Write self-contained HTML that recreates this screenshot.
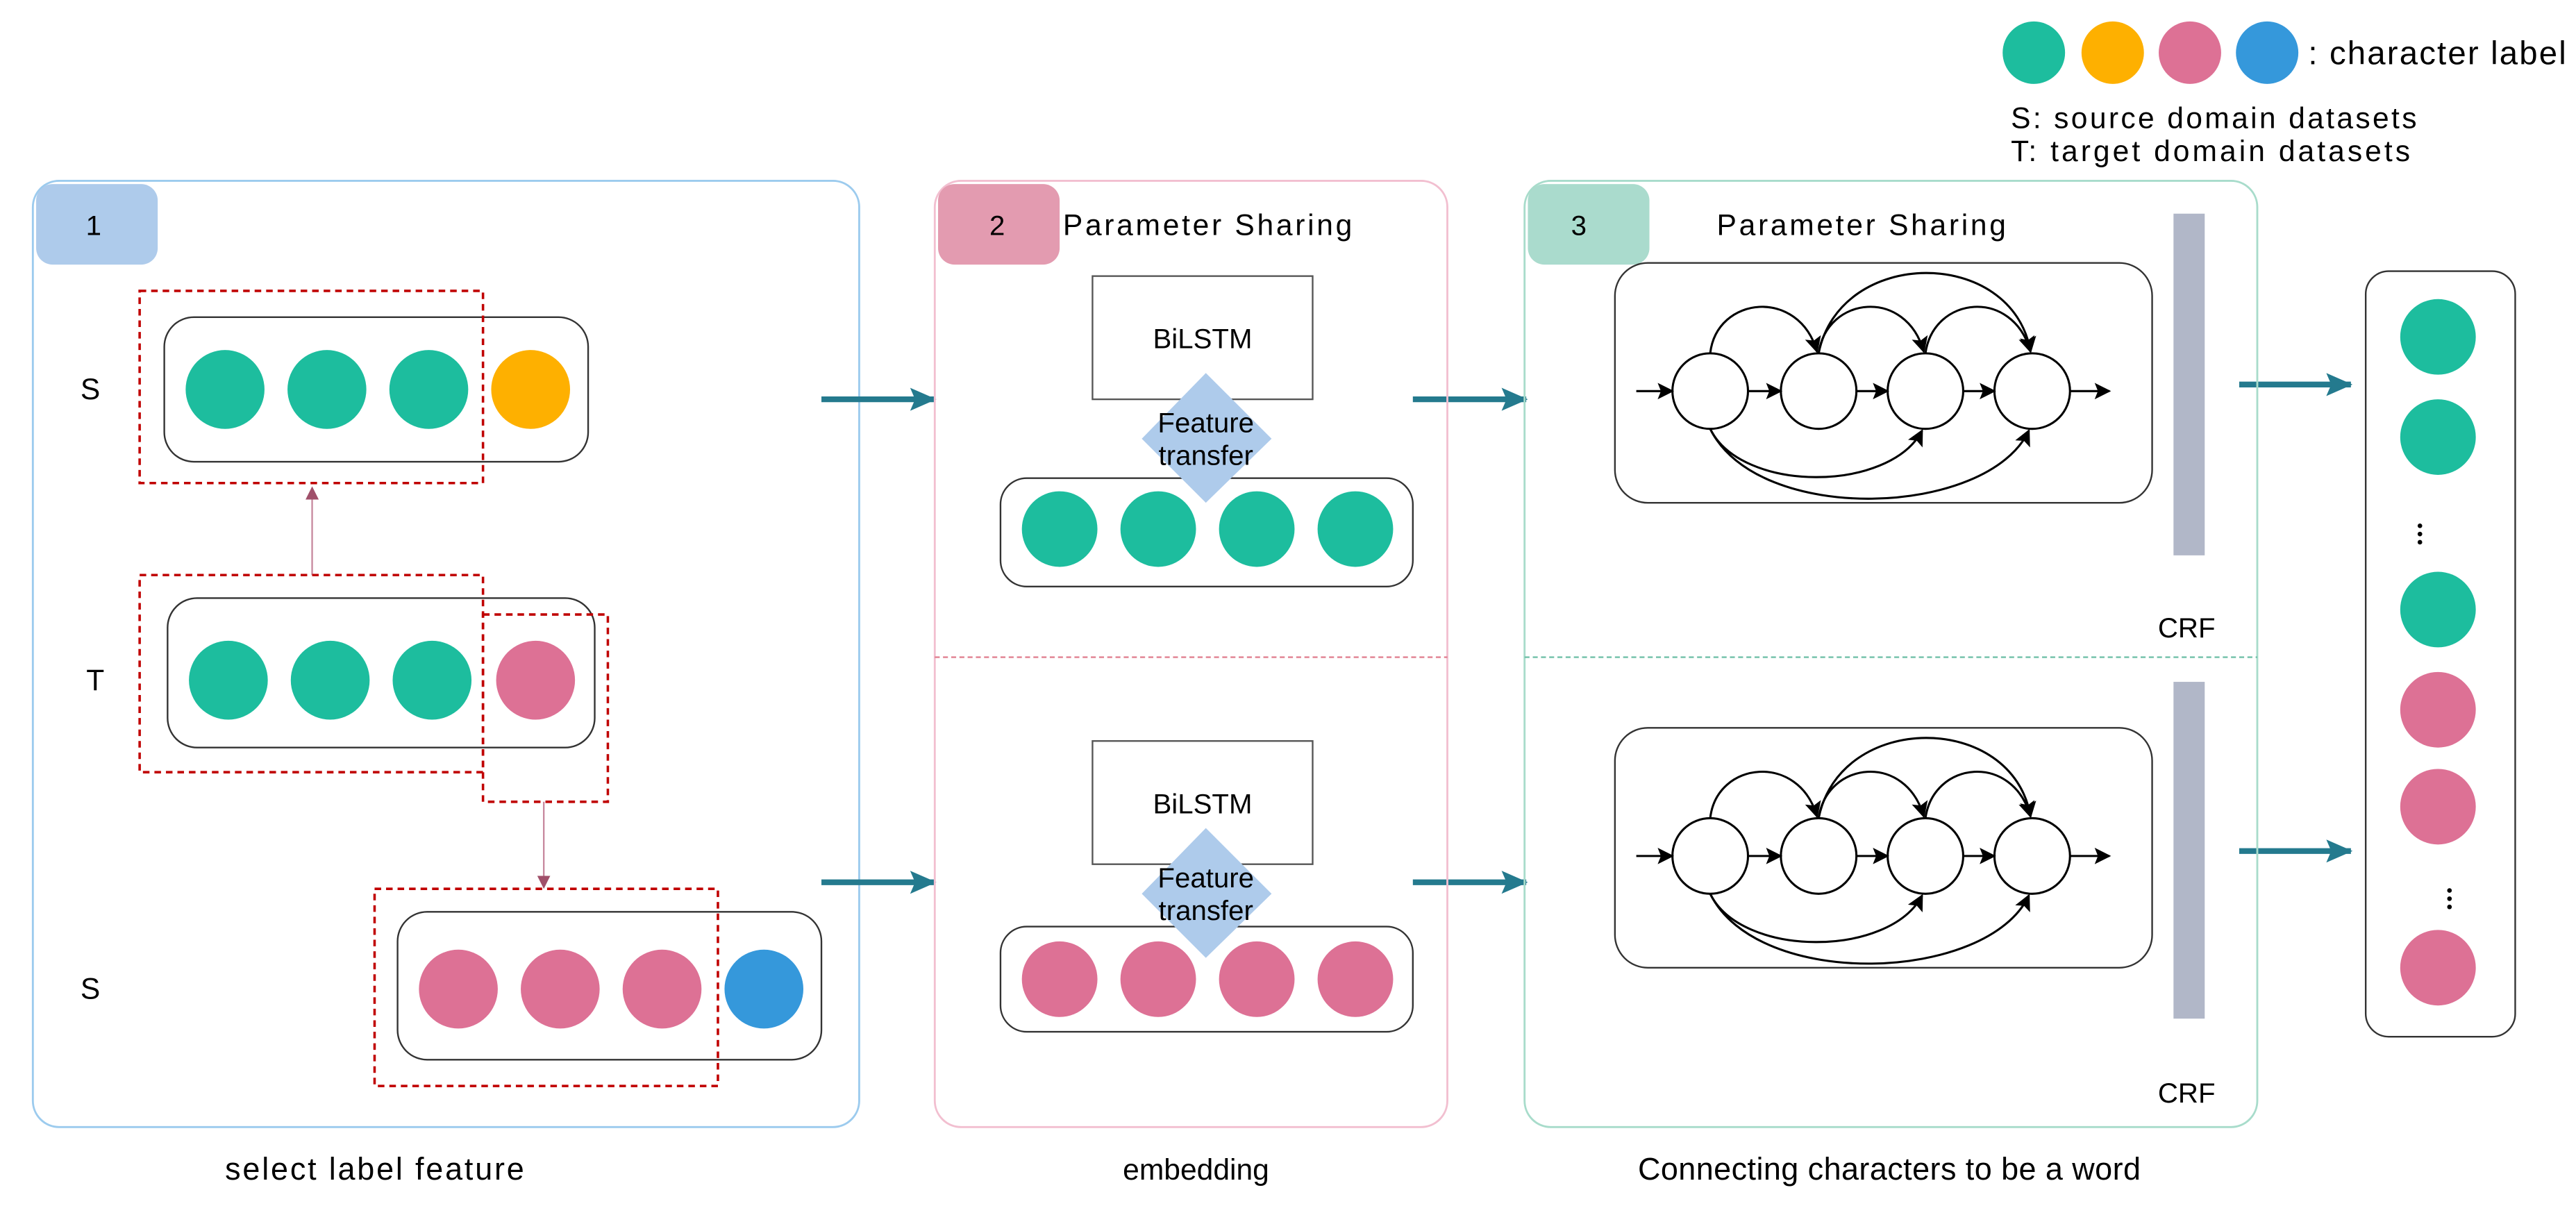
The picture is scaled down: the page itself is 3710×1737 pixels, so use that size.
<!DOCTYPE html>
<html><head><meta charset="utf-8"><style>
html,body{margin:0;padding:0;background:#fff;}
svg{display:block;}
text{font-family:"Liberation Sans",sans-serif;fill:#000;}
</style></head><body>
<svg width="3710" height="1737" viewBox="0 0 1568 734" xmlns="http://www.w3.org/2000/svg">
<defs>
<marker id="tl" markerWidth="16" markerHeight="14" refX="15" refY="7" orient="auto" markerUnits="userSpaceOnUse" viewBox="0 0 16 14"><path d="M0,0 L16,7 L0,14 L3,7 z" fill="#247a8e"/></marker>
<marker id="bk" markerWidth="10" markerHeight="10" refX="9" refY="5" orient="auto" markerUnits="userSpaceOnUse"><path d="M0,0 L10,5 L0,10 L2,5 z" fill="#000"/></marker>
<marker id="pk" markerWidth="8" markerHeight="8" refX="7" refY="4" orient="auto" markerUnits="userSpaceOnUse"><path d="M0,0 L8,4 L0,8 z" fill="#a0506a"/></marker>
</defs>

<!-- legend -->
<ellipse cx="1238" cy="32" rx="19" ry="19" fill="#1dbd9e"/>
<ellipse cx="1286" cy="32" rx="19" ry="19" fill="#feb000"/>
<ellipse cx="1333" cy="32" rx="19" ry="19" fill="#dd7195"/>
<ellipse cx="1380" cy="32" rx="19" ry="19" fill="#3598db"/>
<text x="1405" y="39" font-size="20" textLength="157">: character label</text>
<text x="1224" y="78" font-size="18" textLength="247">S: source domain datasets</text>
<text x="1224" y="98" font-size="18" textLength="243">T: target domain datasets</text>

<!-- panel 1 -->
<rect x="20" y="110" width="503" height="576" rx="16" fill="none" stroke="#9ccbee" stroke-width="1.2"/>
<rect x="22" y="112" width="74" height="49" rx="10" fill="#aecbeb"/>
<text x="57" y="143" font-size="17" text-anchor="middle">1</text>
<text x="55" y="243" font-size="18" text-anchor="middle">S</text>
<text x="58" y="420" font-size="18" text-anchor="middle">T</text>
<text x="55" y="608" font-size="18" text-anchor="middle">S</text>

<rect x="100" y="193" width="258" height="88" rx="18" fill="none" stroke="#333" stroke-width="1"/>
<circle cx="137" cy="237" r="24" fill="#1dbd9e"/>
<circle cx="199" cy="237" r="24" fill="#1dbd9e"/>
<circle cx="261" cy="237" r="24" fill="#1dbd9e"/>
<circle cx="323" cy="237" r="24" fill="#feb000"/>
<rect x="85" y="177" width="209" height="117" fill="none" stroke="#c00000" stroke-width="1.5" stroke-dasharray="4,3"/>

<line x1="190" y1="350" x2="190" y2="297" stroke="#c88ba0" stroke-width="1" marker-end="url(#pk)"/>

<rect x="102" y="364" width="260" height="91" rx="18" fill="none" stroke="#333" stroke-width="1"/>
<circle cx="139" cy="414" r="24" fill="#1dbd9e"/>
<circle cx="201" cy="414" r="24" fill="#1dbd9e"/>
<circle cx="263" cy="414" r="24" fill="#1dbd9e"/>
<circle cx="326" cy="414" r="24" fill="#dd7195"/>
<rect x="85" y="350" width="209" height="120" fill="none" stroke="#c00000" stroke-width="1.5" stroke-dasharray="4,3"/>
<rect x="294" y="374" width="76" height="114" fill="none" stroke="#c00000" stroke-width="1.5" stroke-dasharray="4,3"/>

<line x1="331" y1="488" x2="331" y2="540" stroke="#c88ba0" stroke-width="1" marker-end="url(#pk)"/>

<rect x="242" y="555" width="258" height="90" rx="18" fill="none" stroke="#333" stroke-width="1"/>
<circle cx="279" cy="602" r="24" fill="#dd7195"/>
<circle cx="341" cy="602" r="24" fill="#dd7195"/>
<circle cx="403" cy="602" r="24" fill="#dd7195"/>
<circle cx="465" cy="602" r="24" fill="#3598db"/>
<rect x="228" y="541" width="209" height="120" fill="none" stroke="#c00000" stroke-width="1.5" stroke-dasharray="4,3"/>

<text x="228" y="718" font-size="19" text-anchor="middle" textLength="182">select label feature</text>

<!-- teal arrows -->
<g stroke="#247a8e" stroke-width="3.5" fill="none">
<line x1="500" y1="243" x2="569" y2="243" marker-end="url(#tl)"/>
<line x1="500" y1="537" x2="569" y2="537" marker-end="url(#tl)"/>
<line x1="860" y1="243" x2="929" y2="243" marker-end="url(#tl)"/>
<line x1="860" y1="537" x2="929" y2="537" marker-end="url(#tl)"/>
<line x1="1363" y1="234" x2="1431" y2="234" marker-end="url(#tl)"/>
<line x1="1363" y1="518" x2="1431" y2="518" marker-end="url(#tl)"/>
</g>

<!-- panel 2 -->
<rect x="569" y="110" width="312" height="576" rx="16" fill="none" stroke="#f2bfd0" stroke-width="1.2"/>
<rect x="571" y="112" width="74" height="49" rx="10" fill="#e39bb0"/>
<text x="607" y="143" font-size="17" text-anchor="middle">2</text>
<text x="647" y="143" font-size="18" textLength="176">Parameter Sharing</text>
<line x1="569" y1="400" x2="881" y2="400" stroke="#e08090" stroke-width="1" stroke-dasharray="3,2"/>

<rect x="665" y="168" width="134" height="75" fill="#fff" stroke="#555" stroke-width="1"/>
<text x="732" y="212" font-size="17" text-anchor="middle">BiLSTM</text>
<rect x="609" y="291" width="251" height="66" rx="16" fill="none" stroke="#333" stroke-width="1"/>
<circle cx="645" cy="322" r="23" fill="#1dbd9e"/>
<circle cx="705" cy="322" r="23" fill="#1dbd9e"/>
<circle cx="765" cy="322" r="23" fill="#1dbd9e"/>
<circle cx="825" cy="322" r="23" fill="#1dbd9e"/>
<polygon points="734,227 774,267 734,306 695,267" fill="#aecbeb"/>
<text x="734" y="263" font-size="17" text-anchor="middle">Feature</text>
<text x="734" y="283" font-size="17" text-anchor="middle">transfer</text>

<rect x="665" y="451" width="134" height="75" fill="#fff" stroke="#555" stroke-width="1"/>
<text x="732" y="495" font-size="17" text-anchor="middle">BiLSTM</text>
<rect x="609" y="564" width="251" height="64" rx="16" fill="none" stroke="#333" stroke-width="1"/>
<circle cx="645" cy="596" r="23" fill="#dd7195"/>
<circle cx="705" cy="596" r="23" fill="#dd7195"/>
<circle cx="765" cy="596" r="23" fill="#dd7195"/>
<circle cx="825" cy="596" r="23" fill="#dd7195"/>
<polygon points="734,504 774,544 734,583 695,544" fill="#aecbeb"/>
<text x="734" y="540" font-size="17" text-anchor="middle">Feature</text>
<text x="734" y="560" font-size="17" text-anchor="middle">transfer</text>

<text x="728" y="718" font-size="18" text-anchor="middle">embedding</text>

<!-- panel 3 -->
<rect x="928" y="110" width="446" height="576" rx="16" fill="none" stroke="#a8dccb" stroke-width="1.2"/>
<rect x="930" y="112" width="74" height="49" rx="10" fill="#aadbcd"/>
<text x="961" y="143" font-size="17" text-anchor="middle">3</text>
<text x="1045" y="143" font-size="18" textLength="176">Parameter Sharing</text>
<line x1="928" y1="400" x2="1374" y2="400" stroke="#70c0a8" stroke-width="1" stroke-dasharray="3,2"/>

<rect x="1323" y="130" width="19" height="208" fill="#b1b7c8"/>
<text x="1331" y="388" font-size="17" text-anchor="middle">CRF</text>
<rect x="1323" y="415" width="19" height="205" fill="#b1b7c8"/>
<text x="1331" y="671" font-size="17" text-anchor="middle">CRF</text>

<g id="g1">
<rect x="983" y="160" width="327" height="146" rx="20" fill="none" stroke="#333" stroke-width="1"/>
<g fill="none" stroke="#000" stroke-width="1.3">
<line x1="996" y1="238" x2="1018" y2="238" marker-end="url(#bk)"/>
<line x1="1064" y1="238" x2="1084" y2="238" marker-end="url(#bk)"/>
<line x1="1130" y1="238" x2="1149" y2="238" marker-end="url(#bk)"/>
<line x1="1195" y1="238" x2="1214" y2="238" marker-end="url(#bk)"/>
<line x1="1260" y1="238" x2="1284" y2="238" marker-end="url(#bk)"/>
<ellipse cx="1041" cy="238" rx="23" ry="23"/>
<ellipse cx="1107" cy="238" rx="23" ry="23"/>
<ellipse cx="1172" cy="238" rx="23" ry="23"/>
<ellipse cx="1237" cy="238" rx="23" ry="23"/>
<path d="M1041,215 C1045,180 1095,175 1106,214" marker-end="url(#bk)"/>
<path d="M1107,215 C1112,180 1160,175 1171,214" marker-end="url(#bk)"/>
<path d="M1172,215 C1177,180 1225,175 1236,214" marker-end="url(#bk)"/>
<path d="M1107,215 C1120,150 1225,150 1236,214" marker-end="url(#bk)"/>
<path d="M1041,261 C1060,300 1150,300 1170,262" marker-end="url(#bk)"/>
<path d="M1041,261 C1070,320 1210,315 1235,262" marker-end="url(#bk)"/>
</g>
</g>
<use href="#g1" transform="translate(0,283)"/>

<text x="1150" y="718" font-size="19" text-anchor="middle" textLength="306">Connecting characters to be a word</text>

<!-- output column -->
<rect x="1440" y="165" width="91" height="466" rx="14" fill="none" stroke="#333" stroke-width="1"/>
<circle cx="1484" cy="205" r="23" fill="#1dbd9e"/>
<circle cx="1484" cy="266" r="23" fill="#1dbd9e"/>
<circle cx="1484" cy="371" r="23" fill="#1dbd9e"/>
<circle cx="1484" cy="432" r="23" fill="#dd7195"/>
<circle cx="1484" cy="491" r="23" fill="#dd7195"/>
<circle cx="1484" cy="589" r="23" fill="#dd7195"/>
<g fill="#000">
<circle cx="1473" cy="320" r="1.4"/><circle cx="1473" cy="325" r="1.4"/><circle cx="1473" cy="330" r="1.4"/>
<circle cx="1491" cy="542" r="1.4"/><circle cx="1491" cy="547" r="1.4"/><circle cx="1491" cy="552" r="1.4"/>
</g>
</svg>
</body></html>
